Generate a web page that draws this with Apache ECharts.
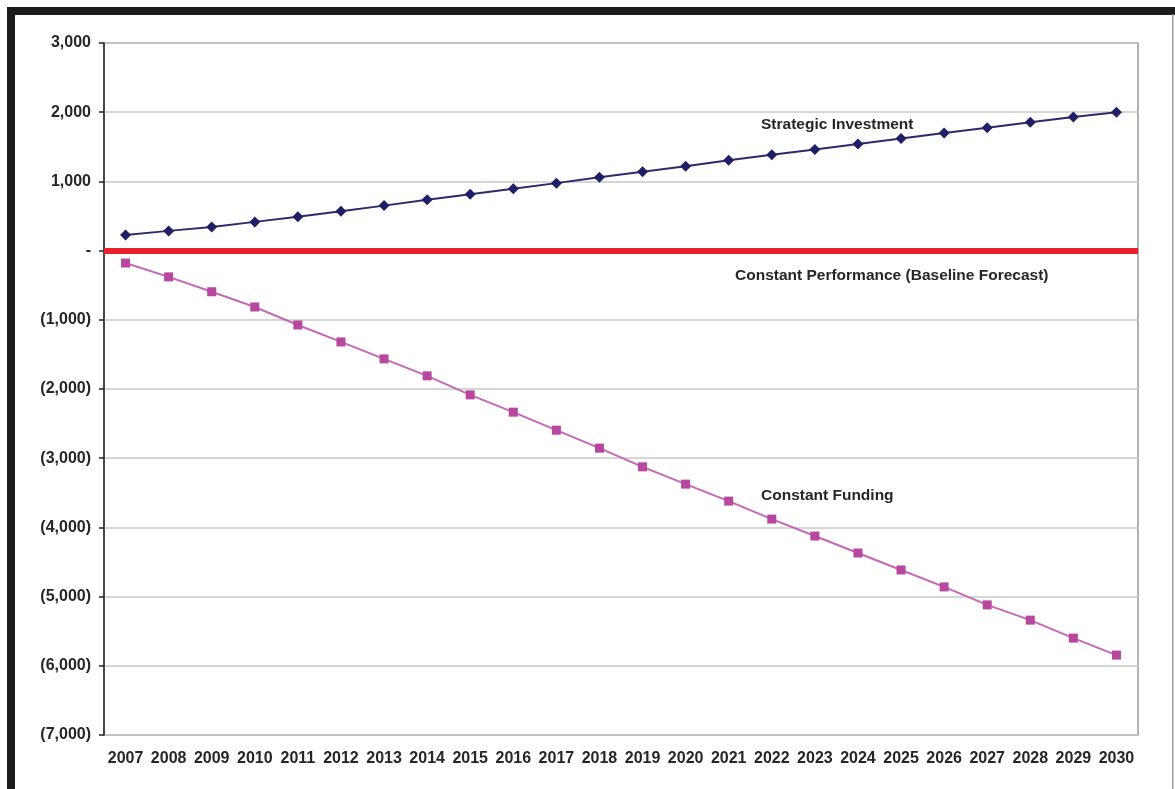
<!DOCTYPE html>
<html>
<head>
<meta charset="utf-8">
<script src="https://cdn.jsdelivr.net/npm/echarts@6/dist/echarts.min.js"></script>
<style>
  html, body { margin: 0; padding: 0; background: #fff; }
  #chart { width: 1175px; height: 789px; }
</style>
</head>
<body>
<div id="chart"></div>
<script>
const years = ['2007','2008','2009','2010','2011','2012','2013','2014','2015','2016','2017','2018',
               '2019','2020','2021','2022','2023','2024','2025','2026','2027','2028','2029','2030'];
const strategicInvestment = [225, 285, 340, 415, 490, 570, 650, 735, 815, 895, 975, 1060,
                             1140, 1220, 1305, 1385, 1460, 1540, 1620, 1700, 1775, 1855, 1930, 2000];
const constantFunding = [-180, -380, -595, -815, -1075, -1320, -1565, -1810, -2085, -2335, -2595, -2855,
                         -3125, -3375, -3620, -3880, -4125, -4370, -4615, -4860, -5120, -5340, -5600, -5845];
const baseline = 0;
const yMin = -7000, yMax = 3000, yStep = 1000;
const labelStrategic = 'Strategic Investment';
const labelBaseline = 'Constant Performance (Baseline Forecast)';
const labelFunding = 'Constant Funding';

function fmt(v) {
  if (v === 0) return '-';
  const s = Math.abs(v).toLocaleString('en-US');
  return v < 0 ? '(' + s + ')' : s;
}

const font = '"Liberation Sans", Arial, Helvetica, sans-serif';
const textColor = '#262626';
const chart = echarts.init(document.getElementById('chart'), null, { renderer: 'canvas' });
chart.setOption({
  animation: false,
  backgroundColor: '#ffffff',
  grid: { left: 104, top: 43, right: 37, bottom: 54, show: true, borderColor: '#9a9a9a', borderWidth: 1.5, backgroundColor: 'transparent' },
  xAxis: {
    type: 'category',
    data: years,
    boundaryGap: true,
    axisLine: { show: true, lineStyle: { color: '#8a8a8a', width: 1.5 } },
    axisTick: { show: false },
    axisLabel: { interval: 0, margin: 16, color: textColor, fontSize: 16, fontWeight: 'bold', fontFamily: font },
    splitLine: { show: false }
  },
  yAxis: {
    type: 'value',
    min: yMin, max: yMax, interval: yStep,
    axisLine: { show: true, lineStyle: { color: '#222', width: 1.5 } },
    axisTick: { show: true, length: 5, lineStyle: { color: '#222', width: 1.5 } },
    axisLabel: { margin: 13, color: textColor, fontSize: 16, fontWeight: 'bold', fontFamily: font, formatter: fmt },
    splitLine: { show: true, lineStyle: { color: '#c8c8c8', width: 1.5 } }
  },
  series: [
    {
      name: labelStrategic,
      type: 'line',
      data: strategicInvestment,
      symbol: 'diamond',
      symbolSize: 11,
      lineStyle: { color: '#2b2b6b', width: 2 },
      itemStyle: { color: '#1f1f66' },
      z: 3
    },
    {
      name: labelFunding,
      type: 'line',
      data: constantFunding,
      symbol: 'rect',
      symbolSize: 9,
      lineStyle: { color: '#c468b8', width: 2 },
      itemStyle: { color: '#b8479f' },
      z: 3,
      markLine: {
        silent: true,
        symbol: 'none',
        label: { show: false },
        lineStyle: { color: '#e8202a', width: 6, type: 'solid' },
        data: [{ yAxis: baseline }]
      }
    }
  ],
  graphic: [
    { type: 'rect', shape: { x: 7, y: 7, width: 1168, height: 8 }, style: { fill: '#1c1c1c' } },
    { type: 'rect', shape: { x: 7, y: 7, width: 8, height: 782 }, style: { fill: '#1c1c1c' } },
    { type: 'rect', shape: { x: 1172, y: 14, width: 1.5, height: 775 }, style: { fill: '#a0a0a0' } },
    { type: 'text', left: 761, top: 117, style: { text: labelStrategic, fill: textColor, font: 'bold 15.5px ' + font } },
    { type: 'text', left: 735, top: 268, style: { text: labelBaseline, fill: textColor, font: 'bold 15.5px ' + font } },
    { type: 'text', left: 761, top: 488, style: { text: labelFunding, fill: textColor, font: 'bold 15.5px ' + font } }
  ]
});
</script>
</body>
</html>
